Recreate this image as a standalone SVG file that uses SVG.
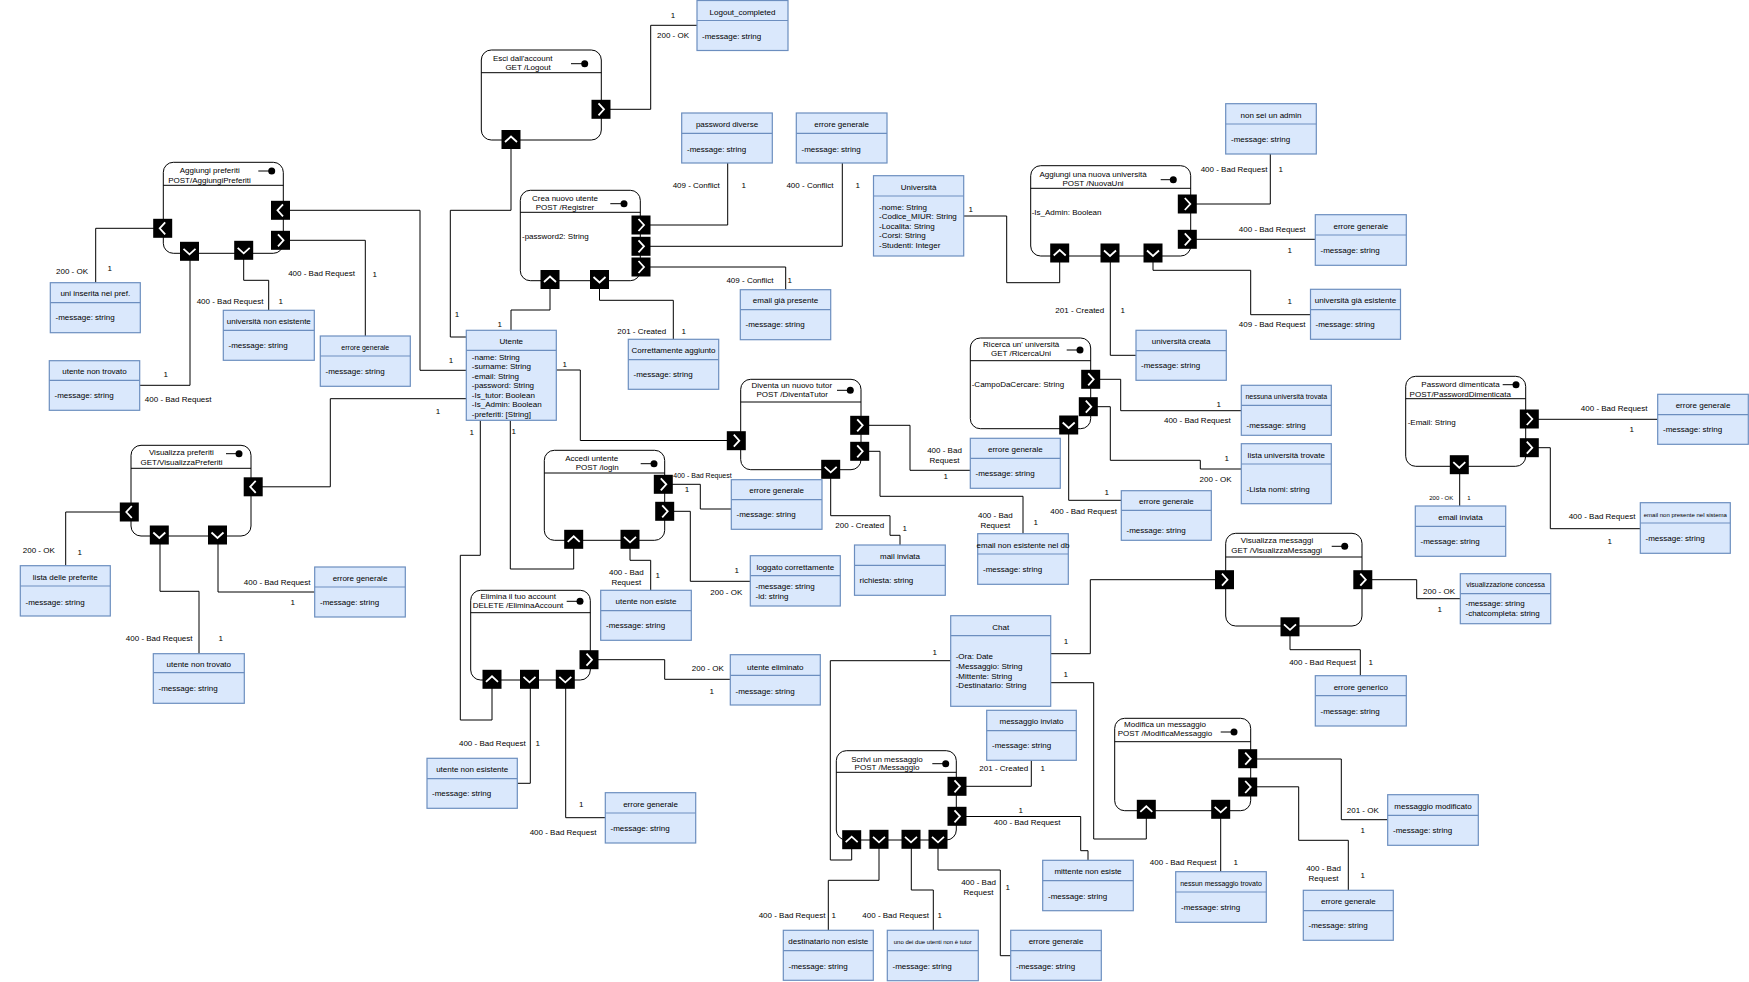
<svg xmlns="http://www.w3.org/2000/svg" xmlns:xlink="http://www.w3.org/1999/xlink" width="1749" height="982" viewBox="0 0 1749 982">
<style>
text{font-family:"Liberation Sans",Arial,sans-serif;fill:#000}
.t8{font-size:8px}.t7{font-size:7px}.t6{font-size:6px}
.c{text-anchor:middle}
.cb{fill:#dae8fc;stroke:#6c8ebf;stroke-width:1.2}
.cd{stroke:#6c8ebf;stroke-width:1.2}
.st{fill:#fff;stroke:#000;stroke-width:1}
.sl{stroke:#000;stroke-width:1}
#edges polyline{fill:none;stroke:#000;stroke-width:1}
</style>
<defs>
<g id="pR"><rect x="-9.5" y="-9.5" width="19" height="19" fill="#000"/><path d="M-2.5,-6 L3,0 L-2.5,6" fill="none" stroke="#fff" stroke-width="1.8"/></g>
<g id="pL"><rect x="-9.5" y="-9.5" width="19" height="19" fill="#000"/><path d="M2.5,-6 L-3,0 L2.5,6" fill="none" stroke="#fff" stroke-width="1.8"/></g>
<g id="pU"><rect x="-9.5" y="-9.5" width="19" height="19" fill="#000"/><path d="M-6,2.5 L0,-3 L6,2.5" fill="none" stroke="#fff" stroke-width="1.8"/></g>
<g id="pD"><rect x="-9.5" y="-9.5" width="19" height="19" fill="#000"/><path d="M-6,-2.5 L0,3 L6,-2.5" fill="none" stroke="#fff" stroke-width="1.8"/></g>
</defs>
<rect width="1749" height="982" fill="#fff"/>

<g id="edges">
<polyline points="601,109.3 650.7,109.3 650.7,25.3 697,25.3"/>
<polyline points="511,139.5 511,210.3 450.3,210.3 450.3,337 466.3,337"/>
<polyline points="162.7,228.3 95.7,228.3 95.7,282.7"/>
<polyline points="280.5,210.3 420,210.3 420,370.3 466.3,370.3"/>
<polyline points="280.5,240.3 365.3,240.3 365.3,336"/>
<polyline points="243.7,250.3 243.7,280.3 268.7,280.3 268.7,310.3"/>
<polyline points="190,251.3 190,385.3 139.7,385.3"/>
<polyline points="253.2,486.8 330.3,486.8 330.3,398.7 466.3,398.7"/>
<polyline points="129.3,512 65.7,512 65.7,565.7"/>
<polyline points="160,535 160,591.3 199,591.3 199,653.7"/>
<polyline points="218,535 218,592 314.7,592"/>
<polyline points="641,225 727.7,225 727.7,163"/>
<polyline points="641,246.3 842.3,246.3 842.3,163"/>
<polyline points="641,267 785.7,267 785.7,289.7"/>
<polyline points="550,279.5 550,310 511,310 511,330.3"/>
<polyline points="599.5,279.5 599.5,300.3 673.3,300.3 673.3,339.3"/>
<polyline points="556.3,370 580.3,370 580.3,440.5 736.3,440.5"/>
<polyline points="859.7,425.3 910,425.3 910,470.3 970.3,470.3"/>
<polyline points="859.7,451.3 880,451.3 880,496.3 1023,496.3 1023,533.7"/>
<polyline points="830.7,469.3 830.7,515.7 890,515.7 890,535.3 900,535.3 900,545"/>
<polyline points="663.3,484.3 700.3,484.3 700.3,509 731.3,509"/>
<polyline points="664.7,511.3 690.3,511.3 690.3,581.3 750.3,581.3"/>
<polyline points="630,539.3 630,560.3 650.7,560.3 650.7,590.3"/>
<polyline points="573.7,539.3 573.7,569 510.3,569 510.3,420.3"/>
<polyline points="480.3,420.3 480.3,555.3 460.3,555.3 460.3,720 492,720 492,679.3"/>
<polyline points="589,659.7 664.7,659.7 664.7,679.3 730.3,679.3"/>
<polyline points="530.3,679.3 530.3,783.3 517.3,783.3"/>
<polyline points="565.7,679.3 565.7,817.7 605.3,817.7"/>
<polyline points="963.7,216 1006.7,216 1006.7,282.7 1059.7,282.7 1059.7,253"/>
<polyline points="1187.3,204 1270.3,204 1270.3,154"/>
<polyline points="1187.3,239.3 1315.3,239.3"/>
<polyline points="1153,253 1153,270.3 1250.7,270.3 1250.7,314.7 1310.5,314.7"/>
<polyline points="1110.3,253 1110.3,355.3 1136,355.3"/>
<polyline points="1090.7,379.3 1120.7,379.3 1120.7,410.7 1241.3,410.7"/>
<polyline points="1088.3,406.7 1110.3,406.7 1110.3,460.3 1200.3,460.3 1200.3,469 1241.3,469"/>
<polyline points="1068.7,425 1068.7,500.3 1121.3,500.3"/>
<polyline points="1050.7,653.7 1090.3,653.7 1090.3,579.7 1224.5,579.7"/>
<polyline points="1050.7,682.7 1093.7,682.7 1093.7,839 1146.3,839 1146.3,809.3"/>
<polyline points="950.7,660.7 830.3,660.7 830.3,860 851.7,860 851.7,839.7"/>
<polyline points="1362.8,579.7 1416.7,579.7 1416.7,598.7 1460.3,598.7"/>
<polyline points="1290,626.8 1290,649.7 1360.3,649.7 1360.3,675.7"/>
<polyline points="1529.3,419.3 1657.7,419.3"/>
<polyline points="1529.3,447.7 1550.3,447.7 1550.3,528.7 1640.3,528.7"/>
<polyline points="1459.7,464.7 1459.7,506"/>
<polyline points="957,786.3 1031.3,786.3 1031.3,760.3"/>
<polyline points="957,816.5 1080.7,816.5 1080.7,850.7 1088,850.7 1088,860.3"/>
<polyline points="938,839.3 938,870 1000.3,870 1000.3,955.7 1010.7,955.7"/>
<polyline points="911.3,839.3 911.3,890 933.3,890 933.3,930.3"/>
<polyline points="879,839.3 879,880.3 828.3,880.3 828.3,930.3"/>
<polyline points="1247.7,759 1341.3,759 1341.3,819.7 1387.7,819.7"/>
<polyline points="1247.7,786.8 1298.7,786.8 1298.7,840.3 1348.3,840.3 1348.3,890.3"/>
<polyline points="1220.7,809.3 1220.7,871.7"/>
</g>

<g id="edge-labels">
<text class="t8 c" x="673" y="18">1</text><text class="t8 c" x="673" y="38">200 - OK</text>
<text class="t8 c" x="457" y="317">1</text>
<text class="t8 c" x="72" y="274">200 - OK</text><text class="t8 c" x="109.7" y="271.3">1</text>
<text class="t8 c" x="451" y="363.3">1</text>
<text class="t8 c" x="321.5" y="276.3">400 - Bad Request</text><text class="t8 c" x="374.7" y="277">1</text>
<text class="t8 c" x="230" y="304.3">400 - Bad Request</text><text class="t8 c" x="280.7" y="304.3">1</text>
<text class="t8 c" x="165.7" y="377.3">1</text><text class="t8 c" x="178.2" y="402.3">400 - Bad Request</text>
<text class="t8 c" x="438" y="414">1</text>
<text class="t8 c" x="38.8" y="553">200 - OK</text><text class="t8 c" x="79.7" y="555.3">1</text>
<text class="t8 c" x="159.2" y="641.3">400 - Bad Request</text><text class="t8 c" x="220.7" y="641.3">1</text>
<text class="t8 c" x="277.2" y="585.3">400 - Bad Request</text><text class="t8 c" x="292.7" y="605.3">1</text>
<text class="t8 c" x="696.2" y="188">409 - Conflict</text><text class="t8 c" x="743.7" y="188">1</text>
<text class="t8 c" x="810" y="188">400 - Conflict</text><text class="t8 c" x="857.7" y="188">1</text>
<text class="t8 c" x="750" y="283">409 - Conflict</text><text class="t8 c" x="789.7" y="283">1</text>
<text class="t8 c" x="499.7" y="327">1</text>
<text class="t8 c" x="641.7" y="334.3">201 - Created</text><text class="t8 c" x="683.7" y="334.3">1</text>
<text class="t8 c" x="564.7" y="367.3">1</text>
<text class="t8 c" x="944.5" y="453">400 - Bad</text><text class="t8 c" x="944.5" y="463.3">Request</text><text class="t8 c" x="945.7" y="479">1</text>
<text class="t8 c" x="995.3" y="518.3">400 - Bad</text><text class="t8 c" x="995.3" y="528.3">Request</text><text class="t8 c" x="1035.7" y="525">1</text>
<text class="t8 c" x="859.8" y="528">200 - Created</text><text class="t8 c" x="904.7" y="531">1</text>
<text class="t7 c" x="702.5" y="477.8">400 - Bad Request</text><text class="t8 c" x="687" y="492.3">1</text>
<text class="t8 c" x="736.7" y="573">1</text><text class="t8 c" x="726.3" y="595.3">200 - OK</text>
<text class="t8 c" x="626.3" y="575.3">400 - Bad</text><text class="t8 c" x="626.3" y="585.3">Request</text><text class="t8 c" x="657.7" y="578.3">1</text>
<text class="t8 c" x="513.7" y="434.3">1</text>
<text class="t8 c" x="471.7" y="435.3">1</text>
<text class="t8 c" x="707.8" y="671">200 - OK</text><text class="t8 c" x="711.7" y="694.3">1</text>
<text class="t8 c" x="492.3" y="746.3">400 - Bad Request</text><text class="t8 c" x="537.7" y="746.3">1</text>
<text class="t8 c" x="581.3" y="807.3">1</text><text class="t8 c" x="563" y="835.3">400 - Bad Request</text>
<text class="t8 c" x="970.7" y="212">1</text>
<text class="t8 c" x="1234" y="172.3">400 - Bad Request</text><text class="t8 c" x="1280.7" y="172.3">1</text>
<text class="t8 c" x="1272.2" y="232.3">400 - Bad Request</text><text class="t8 c" x="1289.7" y="253">1</text>
<text class="t8 c" x="1289.7" y="304.3">1</text><text class="t8 c" x="1272.2" y="327">409 - Bad Request</text>
<text class="t8 c" x="1079.8" y="313">201 - Created</text><text class="t8 c" x="1122.7" y="313">1</text>
<text class="t8 c" x="1218.7" y="407.3">1</text><text class="t8 c" x="1197.3" y="423.3">400 - Bad Request</text>
<text class="t8 c" x="1226.7" y="461">1</text><text class="t8 c" x="1215.5" y="482.3">200 - OK</text>
<text class="t8 c" x="1106.7" y="495">1</text><text class="t8 c" x="1083.7" y="514.3">400 - Bad Request</text>
<text class="t8 c" x="1066" y="644">1</text>
<text class="t8 c" x="1065.7" y="677.3">1</text>
<text class="t8 c" x="934.7" y="655">1</text>
<text class="t8 c" x="1439" y="594">200 - OK</text><text class="t8 c" x="1439.7" y="611.7">1</text>
<text class="t8 c" x="1322.5" y="665">400 - Bad Request</text><text class="t8 c" x="1370.7" y="665">1</text>
<text class="t8 c" x="1614.2" y="411.3">400 - Bad Request</text><text class="t8 c" x="1631.7" y="432.3">1</text>
<text class="t8 c" x="1602" y="519.3">400 - Bad Request</text><text class="t8 c" x="1609.7" y="544.3">1</text>
<text class="t6 c" x="1441.3" y="499.7">200 - OK</text><text class="t6 c" x="1469" y="499.7">1</text>
<text class="t8 c" x="1003.8" y="771.3">201 - Created</text><text class="t8 c" x="1042.7" y="771.3">1</text>
<text class="t8 c" x="1020.7" y="813">1</text><text class="t8 c" x="1027.2" y="825.3">400 - Bad Request</text>
<text class="t8 c" x="978.5" y="885.3">400 - Bad</text><text class="t8 c" x="978.5" y="895.3">Request</text><text class="t8 c" x="1007.7" y="890.3">1</text>
<text class="t8 c" x="895.7" y="918.3">400 - Bad Request</text><text class="t8 c" x="939.7" y="918.3">1</text>
<text class="t8 c" x="792" y="918">400 - Bad Request</text><text class="t8 c" x="833.7" y="918">1</text>
<text class="t8 c" x="1362.8" y="813">201 - OK</text><text class="t8 c" x="1362.7" y="833.3">1</text>
<text class="t8 c" x="1323.5" y="871.3">400 - Bad</text><text class="t8 c" x="1323.5" y="881.3">Request</text><text class="t8 c" x="1362.7" y="878.3">1</text>
<text class="t8 c" x="1183.2" y="865.3">400 - Bad Request</text><text class="t8 c" x="1235.7" y="865.3">1</text>
</g>

<!-- State nodes -->
<g id="n-esci">
<rect class="st" x="481.3" y="50" width="120" height="90" rx="10"/>
<line class="sl" x1="481.3" y1="72.7" x2="601.3" y2="72.7"/>
<text class="t8 c" x="522.7" y="61">Esci dall'account</text>
<text class="t8 c" x="528" y="70">GET /Logout</text>
<line class="sl" x1="571" y1="63.7" x2="584.7" y2="63.7"/><circle cx="584.7" cy="63.7" r="3.5"/>
<use href="#pR" x="601" y="109.3"/><use href="#pU" x="511" y="139.5"/>
</g>
<g id="n-aggiungi-preferiti">
<rect class="st" x="163.3" y="162.3" width="120" height="91" rx="10"/>
<line class="sl" x1="163.3" y1="185.3" x2="283.3" y2="185.3"/>
<text class="t8 c" x="209.7" y="173.3">Aggiungi preferiti</text>
<text class="t8 c" x="209.5" y="183">POST/AggiungiPreferiti</text>
<line class="sl" x1="258.3" y1="171" x2="271.7" y2="171"/><circle cx="271.7" cy="171" r="3.5"/>
<use href="#pL" x="162.7" y="228.3"/><use href="#pL" x="280.5" y="210.3"/><use href="#pR" x="280.5" y="240.3"/>
<use href="#pD" x="189.5" y="251.3"/><use href="#pD" x="243.7" y="250.3"/>
</g>
<g id="n-visualizza-preferiti">
<rect class="st" x="131" y="445.3" width="120" height="90.7" rx="10"/>
<line class="sl" x1="131" y1="468.3" x2="251" y2="468.3"/>
<text class="t8 c" x="181.3" y="455.3">Visualizza preferiti</text>
<text class="t8 c" x="181.5" y="465">GET/VisualizzaPreferiti</text>
<line class="sl" x1="226" y1="453.7" x2="239" y2="453.7"/><circle cx="239" cy="453.7" r="3.5"/>
<use href="#pL" x="253.2" y="486.8"/><use href="#pL" x="129.3" y="512"/>
<use href="#pD" x="159.3" y="535"/><use href="#pD" x="217.5" y="535"/>
</g>
<g id="n-crea-utente">
<rect class="st" x="520.3" y="190.3" width="120" height="90.4" rx="10"/>
<line class="sl" x1="520.3" y1="212.3" x2="640.3" y2="212.3"/>
<text class="t8 c" x="565" y="201.3">Crea nuovo utente</text>
<text class="t8 c" x="565" y="210.3">POST /Registrer</text>
<line class="sl" x1="610.3" y1="203.7" x2="624" y2="203.7"/><circle cx="624" cy="203.7" r="3.5"/>
<text class="t8" x="522" y="239.3">-password2: String</text>
<use href="#pR" x="641" y="225"/><use href="#pR" x="641" y="246.3"/><use href="#pR" x="641" y="267"/>
<use href="#pU" x="550" y="279.5"/><use href="#pD" x="599.5" y="279.5"/>
</g>
<g id="n-accedi">
<rect class="st" x="544.3" y="450.3" width="120.4" height="90" rx="10"/>
<line class="sl" x1="544.3" y1="473" x2="664.7" y2="473"/>
<text class="t8 c" x="591.7" y="461">Accedi untente</text>
<text class="t8 c" x="597.2" y="470.3">POST /login</text>
<line class="sl" x1="640.7" y1="463.7" x2="654" y2="463.7"/><circle cx="654" cy="463.7" r="3.5"/>
<use href="#pR" x="663.3" y="484.3"/><use href="#pR" x="664.7" y="511.3"/>
<use href="#pU" x="573.7" y="539.3"/><use href="#pD" x="630" y="539.3"/>
</g>
<g id="n-diventa-tutor">
<rect class="st" x="740.7" y="379.3" width="120.3" height="90.4" rx="10"/>
<line class="sl" x1="740.7" y1="402" x2="861" y2="402"/>
<text class="t8 c" x="791.8" y="388.3">Diventa un nuovo tutor</text>
<text class="t8 c" x="792.2" y="397">POST /DiventaTutor</text>
<line class="sl" x1="837" y1="390.3" x2="850.3" y2="390.3"/><circle cx="850.3" cy="390.3" r="3.5"/>
<use href="#pR" x="736.3" y="440.7"/><use href="#pR" x="859.7" y="425.3"/><use href="#pR" x="859.7" y="451.3"/>
<use href="#pD" x="830.7" y="469.3"/>
</g>
<g id="n-elimina">
<rect class="st" x="470.7" y="590.3" width="119.6" height="89.7" rx="10"/>
<line class="sl" x1="470.7" y1="612.7" x2="590.3" y2="612.7"/>
<text class="t8 c" x="518.2" y="599.3">Elimina il tuo account</text>
<text class="t8 c" x="518" y="608.3">DELETE /EliminaAccount</text>
<line class="sl" x1="566.7" y1="601.3" x2="580" y2="601.3"/><circle cx="580" cy="601.3" r="3.5"/>
<use href="#pR" x="589" y="659.7"/><use href="#pU" x="492" y="679.3"/>
<use href="#pD" x="529.5" y="679.3"/><use href="#pD" x="565.3" y="679.3"/>
</g>
<g id="n-nuova-uni">
<rect class="st" x="1030.7" y="165.7" width="160" height="90.3" rx="10"/>
<line class="sl" x1="1030.7" y1="188.3" x2="1190.7" y2="188.3"/>
<text class="t8 c" x="1093" y="177.3">Aggiungi una nuova università</text>
<text class="t8 c" x="1093" y="186">POST /NuovaUni</text>
<line class="sl" x1="1160.7" y1="179.7" x2="1173.3" y2="179.7"/><circle cx="1173.3" cy="179.7" r="3.5"/>
<text class="t8" x="1031.7" y="215.3">-Is_Admin: Boolean</text>
<use href="#pR" x="1187.3" y="204"/><use href="#pR" x="1187.3" y="239.3"/>
<use href="#pU" x="1059.7" y="253"/><use href="#pD" x="1110" y="253"/><use href="#pD" x="1153" y="253"/>
</g>
<g id="n-ricerca-uni">
<rect class="st" x="970.3" y="338" width="120.4" height="90.7" rx="10"/>
<line class="sl" x1="970.3" y1="360.7" x2="1090.7" y2="360.7"/>
<text class="t8 c" x="1021.2" y="347">Ricerca un' università</text>
<text class="t8 c" x="1021" y="356">GET /RicercaUni</text>
<line class="sl" x1="1066.7" y1="350" x2="1080" y2="350"/><circle cx="1080" cy="350" r="3.5"/>
<text class="t8" x="971.7" y="387.3">-CampoDaCercare: String</text>
<use href="#pR" x="1090.7" y="379.3"/><use href="#pR" x="1088.3" y="406.7"/><use href="#pD" x="1068.7" y="425"/>
</g>
<g id="n-password">
<rect class="st" x="1405.7" y="376.3" width="120" height="90" rx="10"/>
<line class="sl" x1="1405.7" y1="398.7" x2="1525.7" y2="398.7"/>
<text class="t8 c" x="1460.5" y="387">Password dimenticata</text>
<text class="t8 c" x="1460.3" y="397">POST/PasswordDimenticata</text>
<line class="sl" x1="1502.7" y1="384.7" x2="1516" y2="384.7"/><circle cx="1516" cy="384.7" r="3.5"/>
<text class="t8" x="1407.7" y="425.3">-Email: String</text>
<use href="#pR" x="1529.3" y="419"/><use href="#pR" x="1529.3" y="447.7"/><use href="#pD" x="1459.3" y="464.7"/>
</g>
<g id="n-visualizza-messaggi">
<rect class="st" x="1225.7" y="533.3" width="136.3" height="92.7" rx="10"/>
<line class="sl" x1="1225.7" y1="557" x2="1362" y2="557"/>
<text class="t8 c" x="1277" y="543.3">Visualizza messaggi</text>
<text class="t8 c" x="1276.6" y="553.3">GET /VisualizzaMessaggi</text>
<line class="sl" x1="1331.7" y1="546.3" x2="1344.7" y2="546.3"/><circle cx="1344.7" cy="546.3" r="3.5"/>
<use href="#pR" x="1224.5" y="579.7"/><use href="#pR" x="1362.8" y="579.7"/><use href="#pD" x="1290" y="626.8"/>
</g>
<g id="n-scrivi">
<rect class="st" x="836.3" y="750.7" width="120" height="89.3" rx="10"/>
<line class="sl" x1="836.3" y1="772.3" x2="956.3" y2="772.3"/>
<text class="t8 c" x="887" y="761.7">Scrivi un messaggio</text>
<text class="t8 c" x="887" y="770.3">POST /Messaggio</text>
<line class="sl" x1="932.3" y1="763.7" x2="945.7" y2="763.7"/><circle cx="945.7" cy="763.7" r="3.5"/>
<use href="#pR" x="957" y="786.3"/><use href="#pR" x="957" y="816.3"/>
<use href="#pU" x="851.7" y="839.7"/><use href="#pD" x="879" y="839.3"/><use href="#pD" x="911" y="839.3"/><use href="#pD" x="938" y="839.3"/>
</g>
<g id="n-modifica">
<rect class="st" x="1114.7" y="718.3" width="136" height="92.4" rx="10"/>
<line class="sl" x1="1114.7" y1="741.7" x2="1250.7" y2="741.7"/>
<text class="t8 c" x="1165" y="727.3">Modifica un messaggio</text>
<text class="t8 c" x="1165" y="736.3">POST /ModificaMessaggio</text>
<line class="sl" x1="1220.7" y1="732" x2="1234" y2="732"/><circle cx="1234" cy="732" r="3.5"/>
<use href="#pR" x="1247.7" y="758.7"/><use href="#pR" x="1247.7" y="787"/>
<use href="#pU" x="1146.3" y="809.3"/><use href="#pD" x="1220.7" y="809.3"/>
</g>

<!-- Class boxes -->
<g id="c-utente"><rect class="cb" x="466.3" y="330.3" width="90" height="90"/><line class="cd" x1="466.3" y1="350.3" x2="556.3" y2="350.3"/>
<text class="t8 c" x="511.3" y="344">Utente</text>
<text class="t8" x="471.8" y="360.3">-name: String</text><text class="t8" x="471.8" y="369.3">-surname: String</text><text class="t8" x="471.8" y="379.3">-email: String</text><text class="t8" x="471.8" y="388.3">-password: String</text><text class="t8" x="471.8" y="398.3">-Is_tutor: Boolean</text><text class="t8" x="471.8" y="407.3">-Is_Admin: Boolean</text><text class="t8" x="471.8" y="417.3">-preferiti: [String]</text></g>
<g id="c-universita"><rect class="cb" x="873.5" y="175.7" width="90.2" height="80.3"/><line class="cd" x1="873.5" y1="196" x2="963.7" y2="196"/>
<text class="t8 c" x="918.6" y="190">Università</text>
<text class="t8" x="879" y="210.3">-nome: String</text><text class="t8" x="879" y="219.3">-Codice_MIUR: String</text><text class="t8" x="879" y="229.3">-Localita: String</text><text class="t8" x="879" y="238.3">-Corsi: String</text><text class="t8" x="879" y="248.3">-Studenti: Integer</text></g>
<g id="c-chat"><rect class="cb" x="950.7" y="615.7" width="100" height="90.6"/><line class="cd" x1="950.7" y1="635.7" x2="1050.7" y2="635.7"/>
<text class="t8 c" x="1000.7" y="630">Chat</text>
<text class="t8" x="955.7" y="659">-Ora: Date</text><text class="t8" x="955.7" y="669.3">-Messaggio: String</text><text class="t8" x="955.7" y="679.3">-Mittente: String</text><text class="t8" x="955.7" y="688.3">-Destinatario: String</text></g>

<g id="c-logout"><rect class="cb" x="697" y="0.5" width="91" height="50"/><line class="cd" x1="697" y1="20.5" x2="788" y2="20.5"/><text class="t8 c" x="742.5" y="14.5">Logout_completed</text><text class="t8" x="702" y="38.5">-message: string</text></g>
<g id="c-password-diverse"><rect class="cb" x="681.7" y="113" width="90.6" height="50"/><line class="cd" x1="681.7" y1="133.3" x2="772.3" y2="133.3"/><text class="t8 c" x="727" y="127.3">password diverse</text><text class="t8" x="687" y="151.7">-message: string</text></g>
<g id="c-errore-registrer"><rect class="cb" x="796.3" y="113" width="90.7" height="50"/><line class="cd" x1="796.3" y1="133.3" x2="887" y2="133.3"/><text class="t8 c" x="841.6" y="127.3">errore generale</text><text class="t8" x="801.5" y="151.7">-message: string</text></g>
<g id="c-email-presente"><rect class="cb" x="740.3" y="289.7" width="90.4" height="50"/><line class="cd" x1="740.3" y1="309.7" x2="830.7" y2="309.7"/><text class="t8 c" x="785.5" y="303.3">email già presente</text><text class="t8" x="745.5" y="327.3">-message: string</text></g>
<g id="c-correttamente"><rect class="cb" x="628.3" y="339.3" width="90.4" height="50"/><line class="cd" x1="628.3" y1="359.7" x2="718.7" y2="359.7"/><text class="t8 c" x="673.5" y="353.3">Correttamente aggiunto</text><text class="t8" x="633.5" y="377.3">-message: string</text></g>
<g id="c-uni-inserita"><rect class="cb" x="50.3" y="282.7" width="90" height="50"/><line class="cd" x1="50.3" y1="302.7" x2="140.3" y2="302.7"/><text class="t8 c" x="95.3" y="296.3">uni inserita nei pref.</text><text class="t8" x="55.5" y="320.3">-message: string</text></g>
<g id="c-uni-non-esistente"><rect class="cb" x="223.3" y="310.3" width="91" height="50"/><line class="cd" x1="223.3" y1="330.3" x2="314.3" y2="330.3"/><text class="t8 c" x="268.8" y="324.3">università non esistente</text><text class="t8" x="228.5" y="348.3">-message: string</text></g>
<g id="c-errore-aggpref"><rect class="cb" x="320.3" y="336" width="90" height="50.3"/><line class="cd" x1="320.3" y1="356" x2="410.3" y2="356"/><text class="t7 c" x="365.3" y="350.2">errore generale</text><text class="t8" x="325.5" y="374.3">-message: string</text></g>
<g id="c-utente-non-trovato-1"><rect class="cb" x="49.3" y="360.7" width="90.4" height="49.6"/><line class="cd" x1="49.3" y1="380.3" x2="139.7" y2="380.3"/><text class="t8 c" x="94.5" y="374.3">utente non trovato</text><text class="t8" x="54.5" y="398.3">-message: string</text></g>
<g id="c-lista-preferite"><rect class="cb" x="20.3" y="565.7" width="90" height="50.3"/><line class="cd" x1="20.3" y1="586" x2="110.3" y2="586"/><text class="t8 c" x="65.3" y="580.3">lista delle preferite</text><text class="t8" x="25.5" y="604.7">-message: string</text></g>
<g id="c-utente-non-trovato-2"><rect class="cb" x="153.3" y="653.7" width="91" height="49.6"/><line class="cd" x1="153.3" y1="672.7" x2="244.3" y2="672.7"/><text class="t8 c" x="198.8" y="667.3">utente non trovato</text><text class="t8" x="158.5" y="691.3">-message: string</text></g>
<g id="c-errore-vispref"><rect class="cb" x="314.7" y="567" width="90.6" height="50"/><line class="cd" x1="314.7" y1="587" x2="405.3" y2="587"/><text class="t8 c" x="360" y="581.3">errore generale</text><text class="t8" x="320" y="605.3">-message: string</text></g>
<g id="c-non-admin"><rect class="cb" x="1225.7" y="103.7" width="90.6" height="50.3"/><line class="cd" x1="1225.7" y1="124" x2="1316.3" y2="124"/><text class="t8 c" x="1271" y="118.3">non sei un admin</text><text class="t8" x="1231" y="141.7">-message: string</text></g>
<g id="c-errore-nuovauni"><rect class="cb" x="1315.3" y="214.7" width="91" height="50.6"/><line class="cd" x1="1315.3" y1="235" x2="1406.3" y2="235"/><text class="t8 c" x="1360.8" y="229.3">errore generale</text><text class="t8" x="1320.5" y="253.3">-message: string</text></g>
<g id="c-uni-esistente"><rect class="cb" x="1310.5" y="289.3" width="90" height="50"/><line class="cd" x1="1310.5" y1="309.7" x2="1400.5" y2="309.7"/><text class="t8 c" x="1355.5" y="303.3">università già esistente</text><text class="t8" x="1315.5" y="327.3">-message: string</text></g>
<g id="c-uni-creata"><rect class="cb" x="1136" y="330.3" width="90.3" height="50"/><line class="cd" x1="1136" y1="350.7" x2="1226.3" y2="350.7"/><text class="t8 c" x="1181.2" y="344">università creata</text><text class="t8" x="1141" y="368.3">-message: string</text></g>
<g id="c-errore-diventa"><rect class="cb" x="970.3" y="438.3" width="90" height="50"/><line class="cd" x1="970.3" y1="458.3" x2="1060.3" y2="458.3"/><text class="t8 c" x="1015.3" y="452.3">errore generale</text><text class="t8" x="975.5" y="476.3">-message: string</text></g>
<g id="c-email-non-esistente"><rect class="cb" x="977.7" y="533.7" width="90.6" height="50.6"/><line class="cd" x1="977.7" y1="554" x2="1068.3" y2="554"/><text class="t8 c" x="1023" y="548.3">email non esistente nel db</text><text class="t8" x="983" y="572.3">-message: string</text></g>
<g id="c-mail-inviata"><rect class="cb" x="854.5" y="545" width="90.8" height="50.3"/><line class="cd" x1="854.5" y1="565.3" x2="945.3" y2="565.3"/><text class="t8 c" x="900" y="559">mail inviata</text><text class="t8" x="859.5" y="583.3">richiesta: string</text></g>
<g id="c-nessuna-uni"><rect class="cb" x="1241.3" y="385.3" width="90" height="50"/><line class="cd" x1="1241.3" y1="405.3" x2="1331.3" y2="405.3"/><text class="t7 c" x="1286.3" y="398.8">nessuna università trovata</text><text class="t8" x="1246.5" y="428.3">-message: string</text></g>
<g id="c-lista-uni"><rect class="cb" x="1241.3" y="443.7" width="90" height="60"/><line class="cd" x1="1241.3" y1="464" x2="1331.3" y2="464"/><text class="t8 c" x="1286.3" y="458.3">lista università trovate</text><text class="t8" x="1246.5" y="492.3">-Lista nomi: string</text></g>
<g id="c-errore-ricerca"><rect class="cb" x="1121.3" y="490.7" width="90" height="49.6"/><line class="cd" x1="1121.3" y1="510.3" x2="1211.3" y2="510.3"/><text class="t8 c" x="1166.3" y="504.3">errore generale</text><text class="t8" x="1126.5" y="533.3">-message: string</text></g>
<g id="c-errore-accedi"><rect class="cb" x="731.3" y="479.7" width="90.7" height="49.6"/><line class="cd" x1="731.3" y1="499.7" x2="822" y2="499.7"/><text class="t8 c" x="776.6" y="493.3">errore generale</text><text class="t8" x="736.5" y="517.3">-message: string</text></g>
<g id="c-loggato"><rect class="cb" x="750.3" y="555.7" width="90" height="50.3"/><line class="cd" x1="750.3" y1="575.7" x2="840.3" y2="575.7"/><text class="t8 c" x="795.3" y="570">loggato correttamente</text><text class="t8" x="755.5" y="589.3">-message: string</text><text class="t8" x="755.5" y="599.3">-id: string</text></g>
<g id="c-utente-non-esiste"><rect class="cb" x="600.7" y="590.3" width="90.6" height="50"/><line class="cd" x1="600.7" y1="610.7" x2="691.3" y2="610.7"/><text class="t8 c" x="646" y="604.3">utente non esiste</text><text class="t8" x="606" y="628.3">-message: string</text></g>
<g id="c-utente-eliminato"><rect class="cb" x="730.3" y="654.7" width="90" height="50.3"/><line class="cd" x1="730.3" y1="675.3" x2="820.3" y2="675.3"/><text class="t8 c" x="775.3" y="669.7">utente eliminato</text><text class="t8" x="735.5" y="693.7">-message: string</text></g>
<g id="c-utente-non-esistente"><rect class="cb" x="427" y="758.3" width="90.3" height="50"/><line class="cd" x1="427" y1="778.7" x2="517.3" y2="778.7"/><text class="t8 c" x="472.2" y="772.3">utente non esistente</text><text class="t8" x="432" y="796.3">-message: string</text></g>
<g id="c-errore-elimina"><rect class="cb" x="605.3" y="792.7" width="90.4" height="50.3"/><line class="cd" x1="605.3" y1="813" x2="695.7" y2="813"/><text class="t8 c" x="650.5" y="807.3">errore generale</text><text class="t8" x="610.5" y="831.3">-message: string</text></g>
<g id="c-messaggio-inviato"><rect class="cb" x="986.7" y="710.3" width="89.6" height="50"/><line class="cd" x1="986.7" y1="730.7" x2="1076.3" y2="730.7"/><text class="t8 c" x="1031.5" y="724.3">messaggio inviato</text><text class="t8" x="992" y="748.3">-message: string</text></g>
<g id="c-mittente"><rect class="cb" x="1042.7" y="860.3" width="90.6" height="50.4"/><line class="cd" x1="1042.7" y1="880.7" x2="1133.3" y2="880.7"/><text class="t8 c" x="1088" y="874.3">mittente non esiste</text><text class="t8" x="1048" y="898.7">-message: string</text></g>
<g id="c-destinatario"><rect class="cb" x="783.3" y="930.3" width="90" height="50"/><line class="cd" x1="783.3" y1="950.7" x2="873.3" y2="950.7"/><text class="t8 c" x="828.3" y="944.3">destinatario non esiste</text><text class="t8" x="788.5" y="968.7">-message: string</text></g>
<g id="c-non-tutor"><rect class="cb" x="887.3" y="930.3" width="91" height="50.4"/><line class="cd" x1="887.3" y1="950.7" x2="978.3" y2="950.7"/><text class="t6 c" x="932.8" y="944">uno dei due utenti non è tutor</text><text class="t8" x="892.5" y="968.7">-message: string</text></g>
<g id="c-errore-scrivi"><rect class="cb" x="1010.7" y="930.3" width="90.6" height="50"/><line class="cd" x1="1010.7" y1="950.7" x2="1101.3" y2="950.7"/><text class="t8 c" x="1056" y="944.3">errore generale</text><text class="t8" x="1016" y="968.7">-message: string</text></g>
<g id="c-nessun-messaggio"><rect class="cb" x="1175.7" y="871.7" width="90.6" height="50.6"/><line class="cd" x1="1175.7" y1="892" x2="1266.3" y2="892"/><text class="t7 c" x="1221" y="885.8">nessun messaggio trovato</text><text class="t8" x="1181" y="910.3">-message: string</text></g>
<g id="c-messaggio-modificato"><rect class="cb" x="1387.7" y="794.7" width="90.6" height="50.6"/><line class="cd" x1="1387.7" y1="815.3" x2="1478.3" y2="815.3"/><text class="t8 c" x="1433" y="809.3">messaggio modificato</text><text class="t8" x="1393" y="833.3">-message: string</text></g>
<g id="c-errore-modifica"><rect class="cb" x="1303.3" y="890.3" width="90" height="50"/><line class="cd" x1="1303.3" y1="910.7" x2="1393.3" y2="910.7"/><text class="t8 c" x="1348.3" y="904.3">errore generale</text><text class="t8" x="1308.5" y="928.3">-message: string</text></g>
<g id="c-errore-generico"><rect class="cb" x="1315.3" y="675.7" width="91" height="50.3"/><line class="cd" x1="1315.3" y1="695.7" x2="1406.3" y2="695.7"/><text class="t8 c" x="1360.8" y="690.3">errore generico</text><text class="t8" x="1320.5" y="714.3">-message: string</text></g>
<g id="c-visualizzazione"><rect class="cb" x="1460.3" y="573.7" width="90.4" height="50"/><line class="cd" x1="1460.3" y1="593.7" x2="1550.7" y2="593.7"/><text class="t7 c" x="1505.5" y="586.8">visualizzazione concessa</text><text class="t8" x="1465.5" y="606.3">-message: string</text><text class="t8" x="1465.5" y="616.3">-chatcompleta: string</text></g>
<g id="c-errore-password"><rect class="cb" x="1657.7" y="394.3" width="90.6" height="50"/><line class="cd" x1="1657.7" y1="414.7" x2="1748.3" y2="414.7"/><text class="t8 c" x="1703" y="408.3">errore generale</text><text class="t8" x="1663" y="432.3">-message: string</text></g>
<g id="c-email-non-presente"><rect class="cb" x="1640.3" y="502.7" width="90" height="50.6"/><line class="cd" x1="1640.3" y1="523" x2="1730.3" y2="523"/><text class="t6 c" x="1685.3" y="517">email non presente nel sistema</text><text class="t8" x="1645.5" y="541.3">-message: string</text></g>
<g id="c-email-inviata"><rect class="cb" x="1415.3" y="506" width="90.4" height="50.3"/><line class="cd" x1="1415.3" y1="526.3" x2="1505.7" y2="526.3"/><text class="t8 c" x="1460.5" y="520.3">email inviata</text><text class="t8" x="1420.5" y="544.3">-message: string</text></g>
</svg>
